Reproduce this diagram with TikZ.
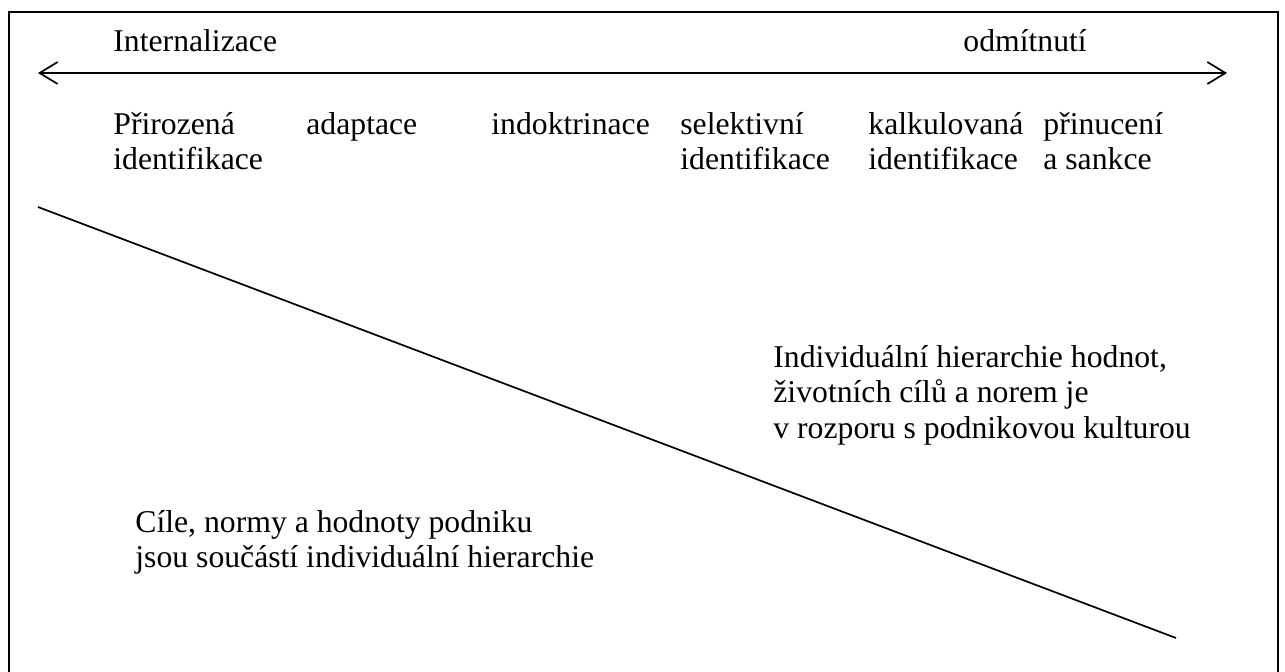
\documentclass[tikz,border=0pt]{standalone}
\usepackage{fontspec}
\setmainfont{Liberation Serif}
\usetikzlibrary{arrows.meta}
% multi-line label whose reference point is the baseline of its first line
\newcommand{\toplines}[1]{\begin{tabular}[t]{@{}l@{}}#1\end{tabular}}
\begin{document}
\begin{tikzpicture}[x=0.5bp,y=-0.5bp,
  lbl/.style={anchor=base west, inner sep=0pt,
    font=\fontsize{15.85bp}{17.75bp}\selectfont},
  framestyle/.style={line width=1.1bp},
  axisline/.style={line width=0.85bp},
  barb/.tip={Straight Barb[length=9bp,width=11bp]}]
\useasboundingbox (0,0) rectangle (1285,671);
\begin{scope}
\clip (0,0) rectangle (1285,671);
% outer frame, open at the bottom edge
\draw[framestyle] (9,700) -- (9,12) -- (1278,12) -- (1278,700);
\end{scope}

% scale ends
\node[lbl] (int) at (113,52) {Internalizace};
\node[lbl] (odm) at (963,52) {odmítnutí};

% double-headed axis
\coordinate (axL) at (38,73);
\coordinate (axR) at (1227,73);
\draw[axisline, barb-barb] (axL) -- (axR);

% stages along the axis
\node[lbl] (s1) at (113,134) {\toplines{Přirozená\\identifikace}};
\node[lbl] (s2) at (306,134) {adaptace};
\node[lbl] (s3) at (491,134) {indoktrinace};
\node[lbl] (s4) at (680,134) {\toplines{selektivní\\identifikace}};
\node[lbl] (s5) at (868,134) {\toplines{kalkulovaná\\identifikace}};
\node[lbl] (s6) at (1043,134) {\toplines{přinucení\\a sankce}};

% dividing diagonal
\coordinate (dA) at (38,207);
\coordinate (dB) at (1176,638);
\draw[axisline] (dA) -- (dB);

% the two regions
\node[lbl] (upper) at (773,367) {\toplines{Individuální hierarchie hodnot,\\životních cílů a norem je\\v rozporu s podnikovou kulturou}};
\node[lbl] (lower) at (135,532) {\toplines{Cíle, normy a hodnoty podniku\\jsou součástí individuální hierarchie}};
\end{tikzpicture}
\end{document}
